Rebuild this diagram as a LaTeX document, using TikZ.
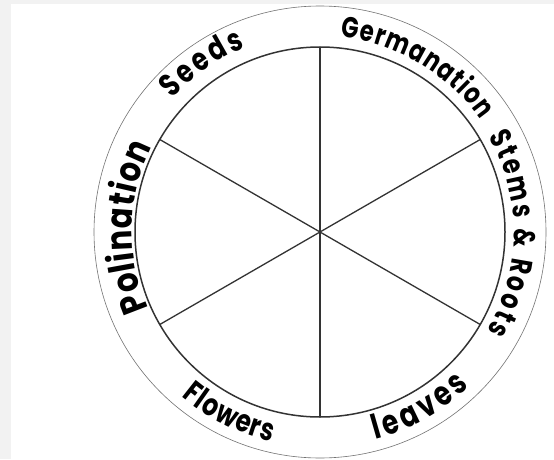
\documentclass[tikz,border=0pt]{standalone}
\usepackage{fontspec}
\setmainfont{Poppins}
\newfontfamily\narrowfont{Poppins}[FakeStretch=0.85]
\newfontfamily\handfont{Poppins}[FakeStretch=0.78]
\usetikzlibrary{decorations.text}

\begin{document}
\begin{tikzpicture}[x=1pt, y=1pt,
  rim/.style={draw=black!55, line width=0.6pt},
  ring/.style={draw=black!80, line width=1.5pt},
  spoke/.style={draw=black!80, line width=1.3pt},
  lbl/.style={decorate, decoration={text along path, text align=fit to path, text={#1}}}
]
\useasboundingbox (0,0) rectangle (554,459);
\fill[black!5] (0,0) rectangle (554,459);
\fill[white] (11,0) rectangle (554,455);

\coordinate (hub) at (320,227);
\draw[rim] (hub) circle[radius=226];
\draw[ring] (hub) circle[radius=185];
\foreach \a in {30,90,...,330}
  \draw[spoke] (hub) -- ++(\a:185);

% stages, read clockwise round the top
\path[lbl={|\fontsize{32}{32}\selectfont\handfont\bfseries|Seeds}]
  ([shift={(138:199)}]hub) arc[start angle=138, end angle=112, radius=199];
\path[lbl={|\fontsize{29}{29}\selectfont\handfont\bfseries|Germanation}]
  ([shift={(84:196)}]hub) arc[start angle=84, end angle=35, radius=196];
\path[lbl={|\fontsize{30}{30}\selectfont\handfont\bfseries|Stems {\&} Roots}]
  ([shift={(29.5:194)}]hub) arc[start angle=29.5, end angle=-30.5, radius=194];
\path[lbl={|\fontsize{36}{36}\selectfont\narrowfont\bfseries|Polination}]
  ([shift={(204:188)}]hub) arc[start angle=204, end angle=153, radius=188];
% and anticlockwise along the bottom
\path[lbl={|\fontsize{31}{31}\selectfont\handfont\bfseries|Flowers}]
  ([shift={(230:215)}]hub) arc[start angle=230, end angle=257, radius=215];
\path[lbl={|\fontsize{34}{34}\selectfont\handfont\bfseries|leaves}]
  ([shift={(285:215)}]hub) arc[start angle=285, end angle=314, radius=215];
\end{tikzpicture}
\end{document}
